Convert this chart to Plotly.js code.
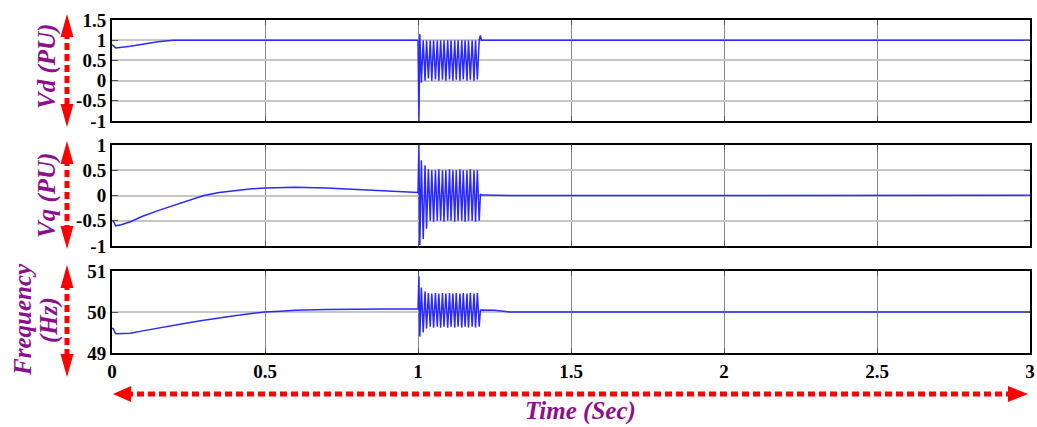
<!DOCTYPE html>
<html>
<head>
<meta charset="utf-8">
<script src="https://cdn.plot.ly/plotly-3.0.1.min.js"></script>
<style>
  html, body { margin: 0; padding: 0; background: #fff; }
  #chart { width: 1037px; height: 427px; }
</style>
</head>
<body>
<div id="chart"></div>
<script>
// Time base (s): start-up, disturbance window, recovery
const tStart = [0, 0.004, 0.012, 0.03, 0.06, 0.1, 0.15, 0.2, 0.25, 0.3,
                0.35, 0.4, 0.45, 0.5, 0.55, 0.6, 0.7, 0.8, 0.9, 0.998];
const tFault = [1.000, 1.003, 1.006, 1.011, 1.017, 1.023, 1.028, 1.034, 1.040, 1.045,
                1.051, 1.057, 1.063, 1.068, 1.074, 1.080, 1.085, 1.091, 1.097, 1.103,
                1.108, 1.114, 1.120, 1.125, 1.131, 1.137, 1.143, 1.148, 1.154, 1.160,
                1.165, 1.171, 1.177, 1.183, 1.188, 1.194, 1.200, 1.204];
const tEnd = [1.207, 1.215, 1.25, 1.3, 1.5, 2.0, 2.2, 2.3, 2.5, 2.7, 3.0];

// Direct-axis voltage (PU)
const vdStart = [0.88, 0.87, 0.81, 0.82, 0.85, 0.9, 0.96, 1.0, 1.0, 1.0,
                 1.0, 1.0, 1.0, 1.0, 1.0, 1.0, 1.0, 1.0, 1.0, 1.0];
const vdFault = [1.0, -1.0, 1.15, -0.05, 1.0, 0.0, 1.0, 0.05, 1.0, 0.0,
                 1.0, 0.03, 1.0, 0.0, 1.0, 0.02, 1.0, 0.0, 1.0, 0.03,
                 1.0, 0.0, 1.0, 0.02, 1.0, 0.0, 1.0, 0.03, 1.0, 0.0,
                 1.0, 0.02, 1.0, 0.0, 1.0, 0.03, 1.0, 1.12];
const vdEnd = [1.0, 1.0, 1.0, 1.0, 1.0, 1.0, 1.0, 1.0, 1.0, 1.0, 1.0];

// Quadrature-axis voltage (PU)
const vqStart = [-0.5, -0.5, -0.6, -0.58, -0.52, -0.41, -0.3, -0.2, -0.09, 0.0,
                 0.06, 0.1, 0.13, 0.15, 0.16, 0.165, 0.15, 0.12, 0.09, 0.06];
const vqFault = [0.06, 1.0, -0.98, 0.7, -0.86, 0.6, -0.66, 0.52, -0.5, 0.5,
                 -0.52, 0.5, -0.5, 0.52, -0.5, 0.5, -0.52, 0.5, -0.5, 0.52,
                 -0.5, 0.5, -0.52, 0.5, -0.5, 0.52, -0.5, 0.5, -0.52, 0.5,
                 -0.5, 0.52, -0.5, 0.5, -0.52, 0.5, -0.5, 0.03];
const vqEnd = [0.01, 0.01, 0.005, 0.0, 0.0, 0.0, 0.005, 0.01, 0.01, 0.008, 0.005];

// Frequency (Hz)
const fStart = [49.6, 49.6, 49.47, 49.47, 49.48, 49.54, 49.61, 49.68, 49.74, 49.8,
                49.86, 49.91, 49.96, 50.0, 50.02, 50.04, 50.06, 50.07, 50.08, 50.08];
const fFault = [50.08, 50.87, 49.4, 50.6, 49.5, 50.5, 49.6, 50.46, 49.64, 50.45,
                49.62, 50.46, 49.64, 50.45, 49.62, 50.46, 49.64, 50.45, 49.62, 50.46,
                49.64, 50.45, 49.62, 50.46, 49.64, 50.45, 49.62, 50.46, 49.64, 50.45,
                49.62, 50.46, 49.64, 50.45, 49.62, 50.46, 49.64, 50.05];
const fEnd = [50.05, 50.05, 50.04, 50.0, 50.0, 50.0, 50.005, 50.01, 50.01, 50.005, 50.0];

// Tick labels
const xTicks = [0, 0.5, 1, 1.5, 2, 2.5, 3];
const xTickText = ['0', '0.5', '1', '1.5', '2', '2.5', '3'];
const vdTicks = [-1, -0.5, 0, 0.5, 1, 1.5];
const vdTickText = ['-1', '-0.5', '0', '0.5', '1', '1.5'];
const vqTicks = [-1, -0.5, 0, 0.5, 1];
const vqTickText = ['-1', '-0.5', '0', '0.5', '1'];
const fTicks = [49, 50, 51];
const fTickText = ['49', '50', '51'];

const time = tStart.concat(tFault, tEnd);
const lineStyle = { color: '#2a2aff', width: 1.5 };

const traces = [
  { x: time, y: vdStart.concat(vdFault, vdEnd), xaxis: 'x', yaxis: 'y', mode: 'lines', line: lineStyle },
  { x: time, y: vqStart.concat(vqFault, vqEnd), xaxis: 'x2', yaxis: 'y2', mode: 'lines', line: lineStyle },
  { x: time, y: fStart.concat(fFault, fEnd), xaxis: 'x3', yaxis: 'y3', mode: 'lines', line: lineStyle }
];

const tickFont = { family: 'Liberation Serif', size: 19, color: '#000', weight: 'bold' };
const labelFont = { family: 'Liberation Serif', size: 25, color: '#8b108b', weight: 'bold', style: 'italic' };
const red = '#ff0000';

function xAxis(anchor, showLabels) {
  return {
    anchor: anchor, domain: [0, 1], range: [0, 3],
    tickvals: xTicks, ticktext: xTickText, showticklabels: showLabels,
    ticklabeloverflow: 'allow',
    tickfont: tickFont, ticks: 'inside', ticklen: 5, tickcolor: '#555', tickwidth: 1,
    showgrid: true, gridcolor: '#8a8a8a', gridwidth: 1,
    showline: true, linecolor: '#000', linewidth: 2, mirror: 'ticks',
    zeroline: false, fixedrange: true
  };
}
function yAxis(anchor, domain, range, vals, text) {
  return {
    anchor: anchor, domain: domain, range: range,
    tickvals: vals, ticktext: text, tickfont: tickFont,
    ticks: 'inside', ticklen: 6, tickcolor: '#555', tickwidth: 1,
    showgrid: true, gridcolor: '#c6c6c6', gridwidth: 2,
    showline: true, linecolor: '#000', linewidth: 2, mirror: 'ticks',
    zeroline: false, fixedrange: true
  };
}

// Page pixels to paper coordinates for the decorations outside the plots
const M = { l: 112, r: 7, t: 20, b: 74 };
const W = 1037, H = 427;
const pw = W - M.l - M.r, ph = H - M.t - M.b;
const px = v => (v - M.l) / pw;
const py = v => (H - M.b - v) / ph;

const shapes = [];
function dashed(x0, y0, x1, y1) {
  shapes.push({ type: 'line', xref: 'paper', yref: 'paper',
    x0: px(x0), y0: py(y0), x1: px(x1), y1: py(y1),
    line: { color: red, width: 5, dash: '7px,4px' } });
}
function tri(a, b, c) {
  shapes.push({ type: 'path', xref: 'paper', yref: 'paper',
    path: 'M' + px(a[0]) + ',' + py(a[1]) + ' L' + px(b[0]) + ',' + py(b[1]) +
          ' L' + px(c[0]) + ',' + py(c[1]) + ' Z',
    fillcolor: red, line: { width: 0 } });
}
function vArrow(x, top, bottom) {
  dashed(x, top + 18, x, bottom - 18);
  tri([x, top], [x - 6.5, top + 23], [x + 6.5, top + 23]);
  tri([x, bottom], [x - 6.5, bottom - 23], [x + 6.5, bottom - 23]);
}
vArrow(67, 14, 127);
vArrow(67, 141, 249);
vArrow(67, 265, 377);
// time arrow
dashed(126, 394, 1012, 394);
tri([113, 394], [131, 386], [131, 402]);
tri([1028, 394], [1008, 386], [1008, 402]);

function label(text, x, y, angle) {
  return { text: text, xref: 'paper', yref: 'paper', x: px(x), y: py(y),
    xanchor: 'center', yanchor: 'middle', showarrow: false,
    textangle: angle, font: labelFont };
}
const annotations = [
  label('Vd (PU)', 47, 67, -90),
  label('Vq (PU)', 47, 196, -90),
  label('Frequency', 22, 320, -90),
  label('(Hz)', 49, 320, -90),
  label('Time (Sec)', 580, 411, 0)
];

const layout = {
  width: W, height: H,
  margin: M,
  paper_bgcolor: '#fff', plot_bgcolor: '#fff',
  showlegend: false,
  xaxis: xAxis('y', false),
  xaxis2: Object.assign(xAxis('y2', false), { matches: 'x' }),
  xaxis3: Object.assign(xAxis('y3', true), { matches: 'x' }),
  yaxis: yAxis('x', [0.6967, 1.0], [-1, 1.5], vdTicks, vdTickText),
  yaxis2: yAxis('x2', [0.3213, 0.6246], [-1, 1], vqTicks, vqTickText),
  yaxis3: yAxis('x3', [0, 0.2462], [49, 51], fTicks, fTickText),
  shapes: shapes,
  annotations: annotations
};

Plotly.newPlot('chart', traces, layout, { displayModeBar: false, staticPlot: true });
</script>
</body>
</html>
